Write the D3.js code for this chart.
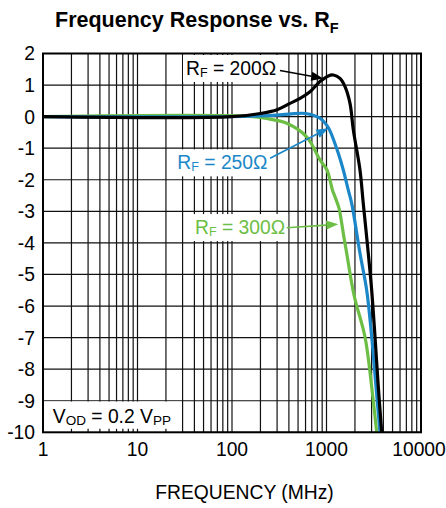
<!DOCTYPE html>
<html><head><meta charset="utf-8">
<script src="https://cdn.jsdelivr.net/npm/d3@7"></script>
<style>
body{margin:0;background:#fff;}
svg{display:block;font-family:"Liberation Sans",Arial,Helvetica,sans-serif;}
</style></head><body>
<svg id="c" width="446" height="508"></svg>
<script>
// ---- data ----
const xTicks = [1, 10, 100, 1000, 10000];
const xTickLabels = ["1", "10", "100", "1000", "10000"];
const yTicks = [2, 1, 0, -1, -2, -3, -4, -5, -6, -7, -8, -9, -10];

const freq200 = [1, 100, 200, 300, 411, 525, 669, 853, 1045, 1180, 1390, 1570, 1773, 1922, 2261, 2449, 2768, 3007, 3260, 3532, 3838];
const gain200 = [0, 0, 0.1, 0.22, 0.42, 0.58, 0.79, 1.11, 1.29, 1.32, 1.21, 0.95, 0.42, -0.42, -1.69, -2.75, -4.33, -5.5, -6.97, -8.55, -10];

const freq250 = [1, 200, 400, 600, 853, 1005, 1089, 1333, 1506, 1701, 1848, 2261, 2663, 3007, 3340, 3683];
const gain250 = [0, 0.02, 0.08, 0.1, -0.05, -0.27, -0.45, -1.16, -1.69, -2.33, -2.75, -4.33, -5.5, -6.97, -8.55, -10];

const freq300 = [1, 168, 250, 379, 617, 853, 1012, 1157, 1230, 1356, 1449, 1506, 1636, 1954, 2556, 3007, 3398];
const gain300 = [0, 0, -0.08, -0.21, -0.64, -1.37, -1.69, -2.33, -2.54, -2.90, -3.38, -3.70, -4.33, -5.65, -6.98, -8.56, -10];

const seriesNames = ["300", "250", "200"];
const seriesColors = ["#6dbe45", "#1b87c8", "#000000"];

// annotation anchors in data coords [freq, gain]
const labelPos = [[40.6, -3.72], [26.4, -1.67], [32.6, 1.32]];
const arrowFrom = [[379, -3.52], [253, -1.32], [322, 1.46]];
const arrowTo = [[1333, -3.41], [1045, -0.37], [925, 1.21]];

const titleText = "Frequency Response vs. R";
const xTitle = "FREQUENCY (MHz)";

// ---- layout ----
const plot = {left: 43, right: 421, top: 53.5, bottom: 432.3};
const svg = d3.select("#c");
const x = d3.scaleLog().domain([1, 10000]).range([plot.left, plot.right]);
const y = d3.scaleLinear().domain([-10, 2]).range([plot.bottom, plot.top]);
const FS = 19.3;

// grid
const g = svg.append("g");
g.selectAll("line.v").data(x.ticks()).join("line")
  .attr("x1", d => x(d)).attr("x2", d => x(d))
  .attr("y1", plot.top).attr("y2", plot.bottom)
  .attr("stroke", "#111").attr("stroke-width", 1.2);
g.selectAll("line.h").data(yTicks).join("line")
  .attr("y1", d => y(d)).attr("y2", d => y(d))
  .attr("x1", plot.left).attr("x2", plot.right)
  .attr("stroke", "#111").attr("stroke-width", 1.2);

// VOD box (covers grid from 1..30 MHz, -10..-9 dB)
g.append("rect").attr("x", x(1)).attr("y", y(-9) + 0.8)
  .attr("width", x(30) - x(1) - 0.8).attr("height", y(-10) - y(-9) - 0.8)
  .attr("fill", "#fff");
g.selectAll("line.bt").data(x.ticks().filter(d => d > 1 && d < 30)).join("line")
  .attr("x1", d => x(d)).attr("x2", d => x(d))
  .attr("y1", y(-10)).attr("y2", y(-10) - 3.5)
  .attr("stroke", "#111").attr("stroke-width", 1.2);

const series = [
  {f: freq300, v: gain300},
  {f: freq250, v: gain250},
  {f: freq200, v: gain200}
];

// labels with white boxes (drawn before curves)
const labG = svg.append("g");
seriesNames.forEach((name, i) => {
  const [lf, lv] = labelPos[i];
  const t = labG.append("text").attr("x", x(lf)).attr("y", y(lv))
    .attr("font-size", FS).attr("fill", seriesColors[i]);
  t.append("tspan").text("R");
  t.append("tspan").text("F").attr("font-size", 12.5).attr("dy", 2);
  t.append("tspan").text(" = " + name + "Ω").attr("dy", -2);
  const bb = t.node().getBBox();
  labG.insert("rect", "text").attr("x", bb.x - 3).attr("y", bb.y - 3)
    .attr("width", bb.width + 6).attr("height", bb.height + 5).attr("fill", "#fff");
});

// curves
const line = d3.line().x(d => x(d[0])).y(d => y(d[1])).curve(d3.curveCatmullRom.alpha(0.5));
svg.append("g").selectAll("path").data(series).join("path")
  .attr("d", s => line(s.f.map((f, j) => [f, s.v[j]])))
  .attr("fill", "none")
  .attr("stroke", (s, i) => seriesColors[i])
  .attr("stroke-width", 3.2)
  .attr("stroke-linejoin", "round");

// arrows
const arrG = svg.append("g");
seriesNames.forEach((name, i) => {
  const x1 = x(arrowFrom[i][0]), y1 = y(arrowFrom[i][1]);
  const x2 = x(arrowTo[i][0]), y2 = y(arrowTo[i][1]);
  const ang = Math.atan2(y2 - y1, x2 - x1);
  const L = 12, Wd = 4.5;
  const bx = x2 - L * Math.cos(ang), by = y2 - L * Math.sin(ang);
  arrG.append("line").attr("x1", x1).attr("y1", y1).attr("x2", bx).attr("y2", by)
    .attr("stroke", seriesColors[i]).attr("stroke-width", 1.6);
  const pts = [[x2, y2],
    [bx + Wd * Math.sin(ang), by - Wd * Math.cos(ang)],
    [bx - Wd * Math.sin(ang), by + Wd * Math.cos(ang)]];
  arrG.append("polygon").attr("points", pts.map(p => p.join(",")).join(" "))
    .attr("fill", seriesColors[i]);
});

// frame
svg.append("rect").attr("x", plot.left).attr("y", plot.top)
  .attr("width", plot.right - plot.left).attr("height", plot.bottom - plot.top)
  .attr("fill", "none").attr("stroke", "#000").attr("stroke-width", 2);

// VOD text
const vt = svg.append("text").attr("x", x(1.27)).attr("y", y(-9.72)).attr("font-size", FS);
vt.append("tspan").text("V");
vt.append("tspan").text("OD").attr("font-size", 13.5).attr("dy", 1.5);
vt.append("tspan").text(" = 0.2 V").attr("dy", -1.5);
vt.append("tspan").text("PP").attr("font-size", 13.5).attr("dy", 1.5);

// axes labels
svg.append("g").selectAll("text").data(yTicks).join("text")
  .attr("x", 35).attr("y", d => y(d)).attr("dy", "0.36em")
  .attr("text-anchor", "end").attr("font-size", FS).text(d => d);
svg.append("g").selectAll("text").data(xTicks).join("text")
  .attr("x", (d, i) => x(d) - (i === 4 ? 2 : 0)).attr("y", 456)
  .attr("text-anchor", "middle").attr("font-size", FS).text((d, i) => xTickLabels[i]);
svg.append("text").attr("x", 244.5).attr("y", 499).attr("text-anchor", "middle")
  .attr("font-size", FS).text(xTitle);

// title
const tt = svg.append("text").attr("x", 55).attr("y", 27.3)
  .attr("font-size", 21.5).attr("font-weight", "bold");
tt.append("tspan").text(titleText);
tt.append("tspan").text("F").attr("font-size", 14.5).attr("dy", 6);
</script>
</body></html>
